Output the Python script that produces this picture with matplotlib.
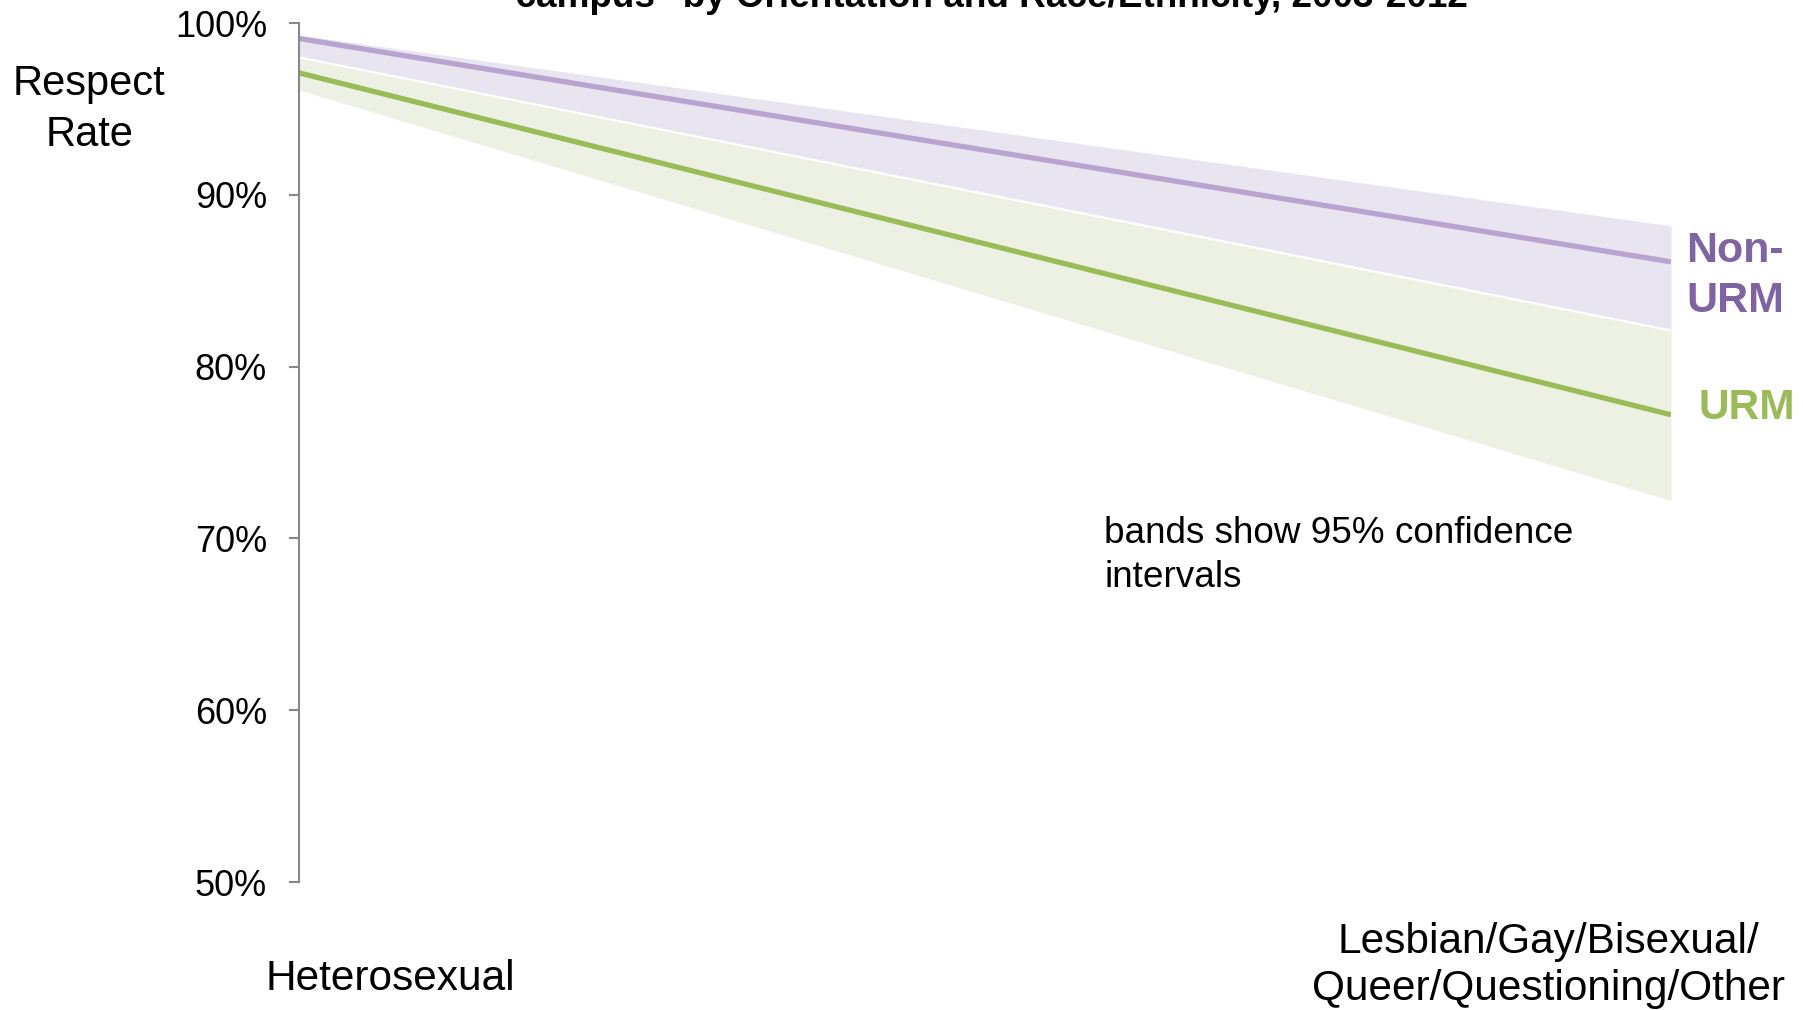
import matplotlib.pyplot as plt
from matplotlib import rcParams

rcParams['font.family'] = ['Liberation Sans', 'DejaVu Sans']

groups = ['Heterosexual', 'Lesbian/Gay/Bisexual/\nQueer/Questioning/Other']
nonurm_rate = [99.1, 86.1]
nonurm_lo = [98.0, 82.1]
nonurm_hi = [99.3, 88.2]
urm_rate = [97.1, 77.2]
urm_lo = [96.1, 72.2]
urm_hi = [98.0, 82.1]
yticks = [50, 60, 70, 80, 90, 100]

purple = '#8064A2'
purple_line = '#B7A5CF'
purple_band = '#E9E5F0'
green = '#9BBB59'
green_line = '#9BBB59'
green_band = '#EDF1E4'

fig = plt.figure(figsize=(18.03, 10.1), dpi=100)
ax = fig.add_axes([0.1658, 0.1267, 0.761, 0.8505])
x = [0, 1]

# confidence bands, then the point estimates on top
ax.fill_between(x, urm_lo, urm_hi, color=green_band, lw=0)
ax.fill_between(x, nonurm_lo, nonurm_hi, color=purple_band, lw=0)
ax.plot(x, nonurm_lo, color='white', lw=1.5)
ax.plot(x, nonurm_rate, color=purple_line, lw=3.8, solid_capstyle='butt')
ax.plot(x, urm_rate, color=green_line, lw=3.8, solid_capstyle='butt')

ax.set_xlim(0, 1)
ax.set_ylim(50, 100)
ax.set_yticks(yticks)
ax.set_yticklabels(['%d%%' % t for t in yticks])
ax.set_xticks([])
for s in ['top', 'right', 'bottom']:
    ax.spines[s].set_visible(False)
ax.spines['left'].set_color('#888888')
ax.spines['left'].set_linewidth(1.5)
ax.tick_params(axis='y', direction='out', length=7, width=1.5, color='#888888',
               labelsize=26, pad=16)

# series labels at the right end
ax.text(1.011, 85.3, 'Non-\nURM', color=purple, fontsize=31, fontweight='bold',
        va='center', ha='left', linespacing=1.32, clip_on=False)
ax.text(1.020, 77.6, 'URM', color=green, fontsize=30.5, fontweight='bold',
        va='center', ha='left', clip_on=False)

ax.text(0.587, 69.0, 'bands show 95% confidence\nintervals', fontsize=26.6,
        va='center', ha='left', linespacing=1.35)

fig.text(0.0494, 0.892, 'Respect\nRate', fontsize=30, ha='center', va='center',
         linespacing=1.35)
fig.text(0.2163, 0.031, groups[0], fontsize=30.5, ha='center', va='center')
fig.text(0.8586, 0.044, groups[1], fontsize=30.5, ha='center', va='center',
         linespacing=1.22)

fig.text(0.545, 1 - 7 / 1010, '"campus" by Orientation and Race/Ethnicity, 2003-2012',
         fontsize=26.6, fontweight='bold', ha='center', va='baseline')

fig.savefig('out.png', dpi=100)
